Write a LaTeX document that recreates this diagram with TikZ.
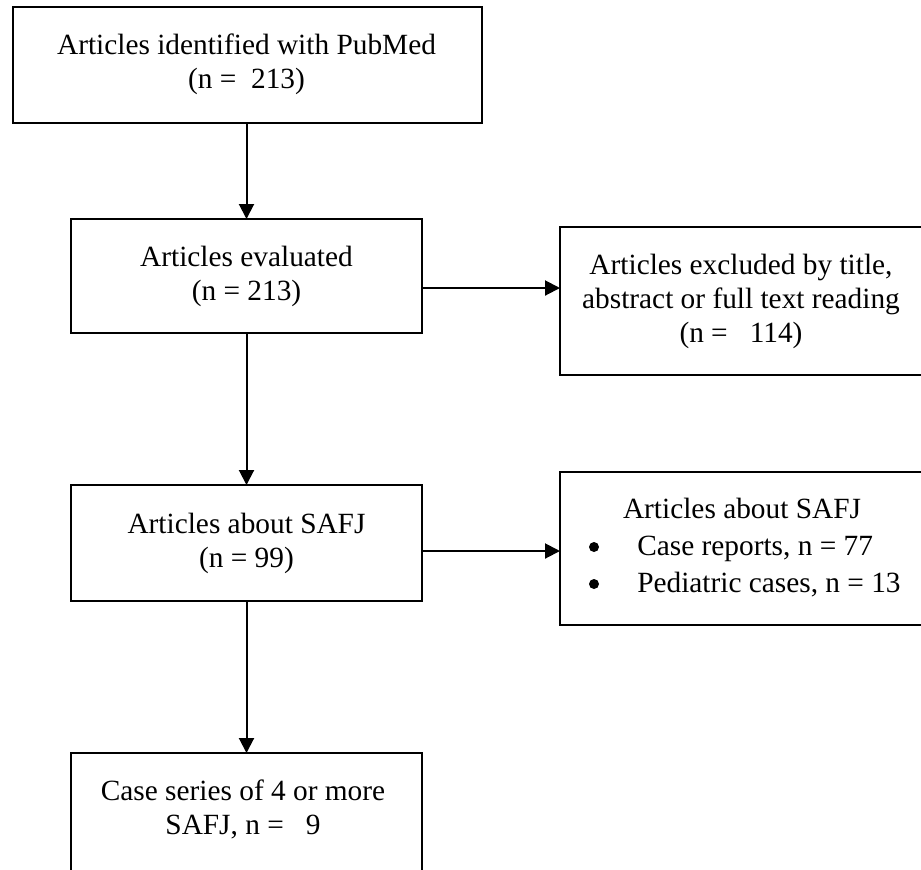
\documentclass[tikz,border=0pt]{standalone}
\usepackage{fontspec}
\setmainfont{Liberation Serif}
\usetikzlibrary{arrows.meta}
\begin{document}
\begin{tikzpicture}[x=0.75pt,y=-0.75pt,
  box/.style={draw, line width=1.5pt, inner sep=0pt, outer sep=0pt},
  txt/.style={inner sep=0pt, anchor=base, font=\fontsize{22}{25.5}\selectfont},
  dot/.style={circle, fill, inner sep=0pt, minimum size=7.5pt},
  arr/.style={line width=1.5pt, -{Triangle[length=11.25pt,width=11.25pt]}}]
\useasboundingbox (0,0) rectangle (921,869);
\clip (0,0) rectangle (921,869);
% boxes
\node[box, minimum width=351.75pt, minimum height=87pt] (b1) at (247.5,65) {};
\node[box, minimum width=263.25pt, minimum height=85.5pt] (b2) at (246.5,276) {};
\node[box, minimum width=273.75pt, minimum height=111pt] (b3) at (742.5,301) {};
\node[box, minimum width=263.25pt, minimum height=87pt] (b4) at (246.5,543) {};
\node[box, minimum width=273.75pt, minimum height=114.75pt] (b5) at (742.5,548.5) {};
\node[box, minimum width=263.25pt, minimum height=110.25pt] (b6) at (246.5,826.5) {};
% texts
\node[txt] (t1) at (246.5,54) {\begin{tabular}[t]{@{}c@{}}Articles identified with PubMed\\(n =~ 213)\end{tabular}};
\node[txt] (t2) at (246.5,266) {\begin{tabular}[t]{@{}c@{}}Articles evaluated\\(n = 213)\end{tabular}};
\node[txt] (t3) at (741,274) {\begin{tabular}[t]{@{}c@{}}Articles excluded by title,\\abstract or full text reading\\(n =~~ 114)\end{tabular}};
\node[txt] (t4) at (246.5,533) {\begin{tabular}[t]{@{}c@{}}Articles about SAFJ\\(n = 99)\end{tabular}};
\node[txt] (t5) at (742,518) {Articles about SAFJ};
\node[dot] (u1) at (594,547) {};
\node[txt, anchor=base west] (t5b) at (637,555) {Case reports, n = 77};
\node[dot] (u2) at (594,584) {};
\node[txt, anchor=base west] (t5c) at (637,592) {Pediatric cases, n = 13};
\node[txt] (t6) at (243,800) {\begin{tabular}[t]{@{}c@{}}Case series of 4 or more\\SAFJ, n =~~ 9\end{tabular}};
% arrows
\draw[arr] (b1.south -| b2.north) -- (b2.north);
\draw[arr] (b2.south) -- (b4.north);
\draw[arr] (b4.south) -- (b6.north);
\draw[arr] ([yshift=-9pt]b2.east) coordinate (a1) -- (a1 -| b3.west);
\draw[arr] ([yshift=-6pt]b4.east) coordinate (a2) -- (a2 -| b5.west);
\end{tikzpicture}
\end{document}
